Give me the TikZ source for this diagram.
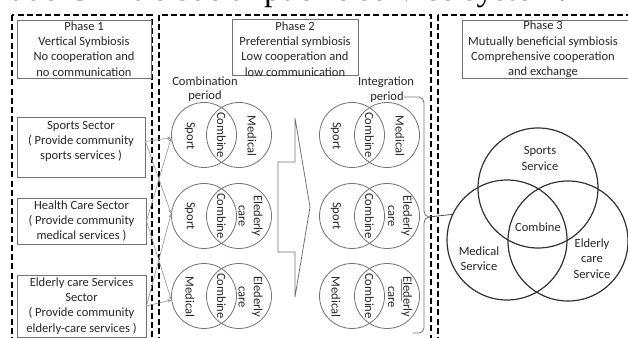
\documentclass[tikz,border=0pt]{standalone}
\usepackage{fontspec}
\setmainfont{Carlito}
\newfontfamily\capfont{Liberation Serif}
\usetikzlibrary{arrows.meta}
\begin{document}
\begin{tikzpicture}[x=0.75pt,y=-0.75pt,
 txt/.style={font=\fontsize{9.4pt}{11.4pt}\selectfont, text=black!85, align=center, inner sep=0pt},
 tbox/.style={txt, draw=black!55, line width=0.7pt, inner sep=0pt},
 phasebox/.style={draw=black, dash pattern=on 4.5pt off 2.4pt, line width=1pt},
 venn/.style={draw=black!55, line width=0.6pt, circle, minimum size=48.75pt, inner sep=0pt},
 bigvenn/.style={draw=black!80, line width=0.9pt, circle, minimum size=90pt, inner sep=0pt},
 rot/.style={txt, rotate=-90},
 link/.style={draw=black!40, line width=0.5pt, -{Stealth[length=3pt,width=2.6pt]}},
 grayline/.style={draw=black!55, line width=0.6pt},
]
\useasboundingbox (0,0) rectangle (628,338);
\clip (0,0) rectangle (628,338);
% clipped caption
\node[anchor=base west, font=\capfont\fontsize{25.6pt}{25.6pt}\selectfont, inner sep=0pt, text=black] (cap) at (-1,1) {rade China's social public service system.};
% phase frames
\draw[phasebox] (12,15) rectangle (152,350);
\draw[phasebox] (159,15) rectangle (431,350);
\draw[phasebox] (438,15) rectangle (660,350);
% title boxes
\node[tbox, minimum width=100.5pt, minimum height=43.5pt] (t1) at (84,49) {Phase 1\\Vertical Symbiosis\\No cooperation and\\no communication};
\node[tbox, minimum width=94.5pt, minimum height=42pt] (t2) at (295,47) {};
\node[txt] (t2t) at (295,49) {Phase 2\\Preferential symbiosis\\Low cooperation and\\low communication};
\node[tbox, minimum width=126pt, minimum height=43.5pt] (t3) at (546,49) {};
\node[txt] (t3t) at (543,49.5) {Phase 3\\Mutually beneficial symbiosis\\Comprehensive cooperation\\and exchange};
% sector boxes
\node[tbox, minimum width=96pt, minimum height=45pt] (sbox) at (81,147) {};
\node[txt] (sboxt) at (81,141.5) {Sports Sector\\( Provide community\\sports services )};
\node[tbox, minimum width=96.75pt, minimum height=34.5pt] (hbox) at (81.5,221) {Health Care Sector\\( Provide community\\medical services )};
\node[tbox, minimum width=96.75pt, minimum height=46.5pt] (ebox) at (81.5,306) {Elderly care Services\\Sector\\( Provide community\\elderly-care services )};
% period labels
\node[txt] (comlab) at (205,81) {Combination};
\node[txt] (comper) at (205,96) {period};
\node[txt] (intlab) at (386,82) {Integration};
\node[txt] (intper) at (387,97) {period};
% circles
\foreach \n/\y in {1/135,2/216,3/296}{
  \node[venn] (A\n L) at (204,\y) {};
  \node[venn] (A\n R) at (239,\y) {};
  \node[venn] (B\n L) at (352,\y) {};
  \node[venn] (B\n R) at (387,\y) {};
  \node[rot] (AC\n) at (221.5,\y) {Combine};
  \node[rot] (BC\n) at (369.5,\y) {Combine};
}
\node[rot] (A1a) at (190,136) {Sport};
\node[rot] (A1b) at (252,136) {Medical};
\node[rot] (A2a) at (190,216) {Sport};
\node[rot] (A2b) at (250.5,216) {Elederly\\care};
\node[rot] (A3a) at (190,297) {Medical};
\node[rot] (A3b) at (250.5,297) {Elederly\\care};
\node[rot] (B1a) at (336,136) {Sport};
\node[rot] (B1b) at (400,136) {Medical};
\node[rot] (B2a) at (336,216) {Sport};
\node[rot] (B2b) at (400,216) {Elederly\\care};
\node[rot] (B3a) at (336,297) {Medical};
\node[rot] (B3b) at (400,297) {Elederly\\care};
\draw[red!70, line width=0.5pt] (401.5,279) -- (401.5,301);
% connectors from sectors
\draw[link] (sbox.5) -- (A1L.185);
\draw[link] (sbox.5) -- (A2L.176);
\draw[link] (hbox.east) -- (A1L.185);
\draw[link] (hbox.east) -- (A3L.187);
\draw[link] (ebox.east) -- (A2L.176);
\draw[link] (ebox.east) -- (A3L.187);
% big arrow
\draw[grayline, line join=miter] (295,118) -- (295,162) -- (278,162) -- (278,252) -- (295,252) -- (295,297) -- (310,207) -- cycle;
% phase 3 venn
\node[bigvenn] (spc) at (538,188) {};
\node[bigvenn] (medc) at (507,240) {};
\node[bigvenn] (eldc) at (568,241) {};
\node[txt] (spt) at (540,158.5) {Sports\\Service};
\node[txt] (medt) at (479,259) {Medical\\Service};
\node[txt] (eldt) at (592,258.5) {Elderly\\care\\Service};
\node[txt] (comt) at (538,227) {Combine};
% brace
\coordinate (btip) at (429,217);
\draw[grayline] (intper.east) -- (419,97) to[out=0,in=90] (424,103) -- (424,211) to[out=-90,in=180] (btip);
\draw[grayline] (btip) to[out=180,in=90] (424,223) -- (424,328) to[out=-90,in=0] (419,333) -- (413,333);
\draw[draw=black!70, line width=0.6pt] (btip) -- (medc.155);
\end{tikzpicture}
\end{document}
